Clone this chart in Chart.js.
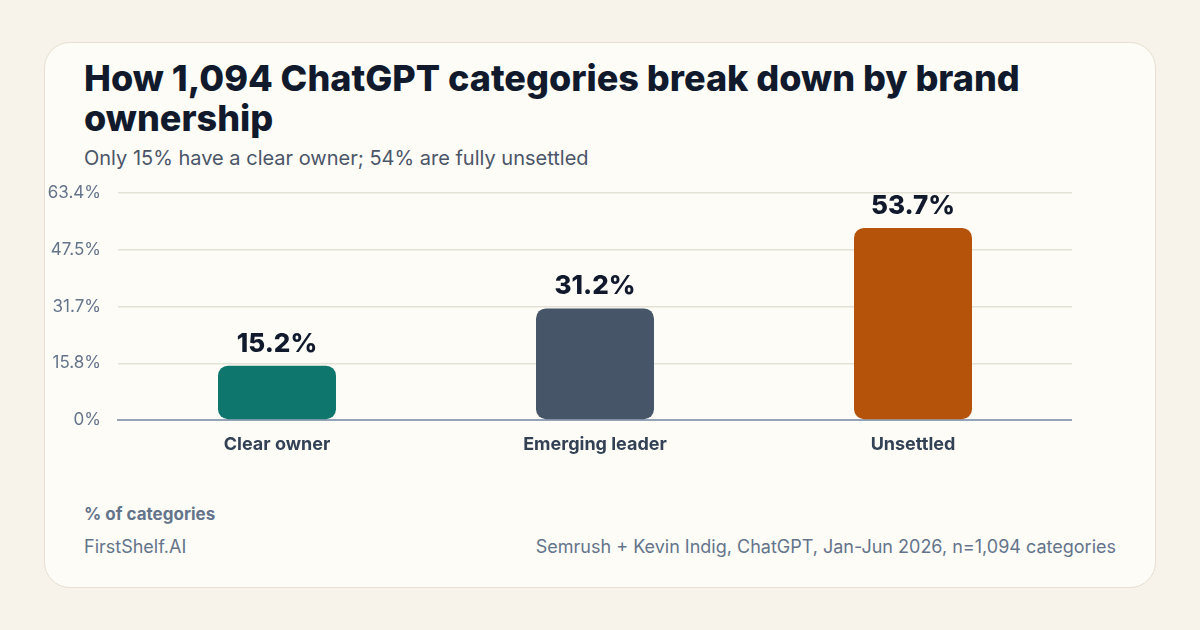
<!DOCTYPE html>
<html>
<head>
<meta charset="utf-8">
<script src="https://cdn.jsdelivr.net/npm/chart.js@4"></script>
<style>
  html, body { margin: 0; padding: 0; }
  body { width: 1200px; height: 630px; background: #f7f3ea; font-family: Inter, sans-serif; position: relative; overflow: hidden; }
  .card { position: absolute; left: 44px; top: 42px; width: 1110px; height: 544px; background: #fdfcf7; border: 1px solid #e6e0d2; border-radius: 26px; }
  .title { position: absolute; left: 84px; top: 58px; width: 1040px; font-size: 36px; font-weight: 800; line-height: 40px; color: #111a2c; letter-spacing: 0px; }
  .sub { position: absolute; left: 84px; top: 146px; font-size: 20px; color: #4b5568; }
  .unit { position: absolute; left: 84px; top: 504px; font-size: 17px; font-weight: 700; color: #64748b; }
  .brand { position: absolute; left: 84px; top: 536px; font-size: 18px; color: #64748b; }
  .src { position: absolute; right: 84px; top: 536px; font-size: 18px; color: #64748b; }
  #wrap { position: absolute; left: 44px; top: 166px; width: 1028px; height: 295px; }
</style>
</head>
<body>
<div class="card"></div>
<div class="title">How 1,094 ChatGPT categories break down by brand ownership</div>
<div class="sub">Only 15% have a clear owner; 54% are fully unsettled</div>
<div id="wrap"><canvas id="chart"></canvas></div>
<div class="unit">% of categories</div>
<div class="brand">FirstShelf.AI</div>
<div class="src">Semrush + Kevin Indig, ChatGPT, Jan-Jun 2026, n=1,094 categories</div>

<script>
var categories = ["Clear owner", "Emerging leader", "Unsettled"];
var shares = [15.2, 31.2, 53.7];
var barColors = ["#0f766e", "#475569", "#b45309"];
var yTicks = ["0%", "15.8%", "31.7%", "47.5%", "63.4%"];
var yMax = 63.4;

// value labels above each bar
var valueLabels = {
  id: "valueLabels",
  afterDatasetsDraw: function(chart) {
    var ctx = chart.ctx;
    var meta = chart.getDatasetMeta(0);
    ctx.save();
    ctx.font = "800 26px Inter";
    ctx.fillStyle = "#111a2c";
    ctx.textAlign = "center";
    ctx.textBaseline = "alphabetic";
    meta.data.forEach(function(bar, i) {
      ctx.fillText(shares[i].toFixed(1) + "%", bar.x, bar.y - 14);
    });
    ctx.restore();
  }
};

new Chart(document.getElementById("chart"), {
  type: "bar",
  data: {
    labels: categories,
    datasets: [{
      data: shares,
      backgroundColor: barColors,
      borderRadius: 10,
      borderSkipped: false,
      barPercentage: 0.371,
      categoryPercentage: 1
    }]
  },
  options: {
    responsive: true,
    maintainAspectRatio: false,
    animation: false,
    layout: { padding: { top: 12, right: 0, bottom: 0, left: 0 } },
    plugins: {
      legend: { display: false },
      tooltip: { enabled: false }
    },
    scales: {
      x: {
        grid: { display: false, drawTicks: false },
        border: { display: true, color: "#94a3b8", width: 2 },
        ticks: { color: "#334155", font: { family: "Inter", size: 18, weight: "700" }, padding: 14 },
        afterFit: function(s) { s.height = 41; }
      },
      y: {
        min: 0,
        max: yMax,
        afterBuildTicks: function(s) {
          s.ticks = yTicks.map(function(t, i) { return { value: yMax * i / (yTicks.length - 1) }; });
        },
        grid: { color: "#e4e1d6", lineWidth: 1.5, drawTicks: false },
        border: { display: false },
        ticks: {
          color: "#64748b",
          font: { family: "Inter", size: 17 },
          padding: 17,
          callback: function(v, i) { return yTicks[i]; }
        },
        afterFit: function(s) { s.width = 74; }
      }
    }
  },
  plugins: [valueLabels]
});
</script>
</body>
</html>
